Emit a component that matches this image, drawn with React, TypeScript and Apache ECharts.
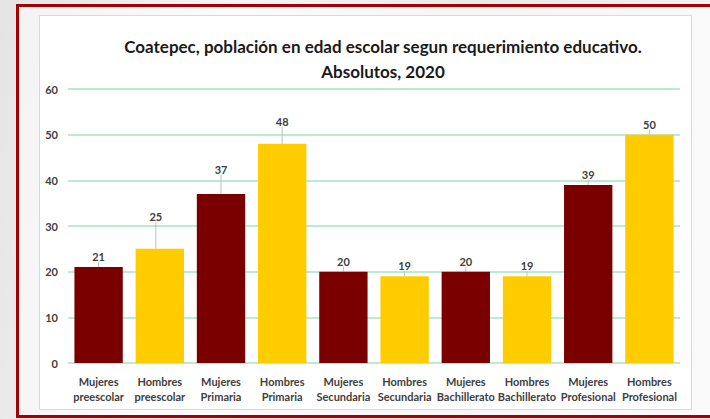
import React, { useEffect, useRef } from "react";
import * as echarts from "echarts";

const categories = [
  "Mujeres\npreescolar",
  "Hombres\npreescolar",
  "Mujeres\nPrimaria",
  "Hombres\nPrimaria",
  "Mujeres\nSecundaria",
  "Hombres\nSecundaria",
  "Mujeres\nBachillerato",
  "Hombres\nBachillerato",
  "Mujeres\nProfesional",
  "Hombres\nProfesional",
];
const values = [21, 25, 37, 48, 20, 19, 20, 19, 39, 50];
const barColors = ["#7A0000", "#FFCC00", "#7A0000", "#FFCC00", "#7A0000", "#FFCC00", "#7A0000", "#FFCC00", "#7A0000", "#FFCC00"];
const titleLines = ["Coatepec, población en edad escolar segun requerimiento educativo.", "Absolutos, 2020"];

// label vertical shifts (callouts moved above their bars)
const labelShift = [0, -22, -14, -12, 0, 0, 0, 0, 0, 0];
const labelShiftX = [0, -4, 0, 0, 0, 0, 0, 0, 0, 0];

export default function App() {
  const ref = useRef<HTMLDivElement>(null);
  useEffect(() => {
    if (!ref.current) return;
    const chart = echarts.init(ref.current, undefined, { renderer: "svg" });
    const font = "Lato, 'Open Sans', sans-serif";
    chart.setOption({
      animation: false,
      backgroundColor: "transparent",
      graphic: [
        {
          type: "rect",
          z: -10,
          shape: { x: 17.5, y: 5.5, width: 720, height: 411 },
          style: { fill: "rgba(255,255,255,0.55)", stroke: "#A50000", lineWidth: 3 },
        },
        {
          type: "rect",
          z: -9,
          shape: { x: 39.5, y: 15.5, width: 652, height: 394 },
          style: { fill: "#FFFFFF", stroke: "#D9D9D9", lineWidth: 1 },
        },
      ],
      title: {
        text: titleLines.join("\n"),
        left: 378,
        top: 29,
        padding: 5,
        textAlign: "center",
        textStyle: {
          fontFamily: font,
          fontWeight: "bold",
          fontSize: 17,
          lineHeight: 25,
          color: "#1A1A1A",
        },
      },
      grid: { left: 68, right: 30, top: 89, bottom: 56, containLabel: false },
      xAxis: {
        type: "category",
        data: categories,
        axisTick: { show: false },
        axisLine: { lineStyle: { color: "#D9D9D9", width: 1 } },
        axisLabel: {
          interval: 0,
          margin: 11,
          fontFamily: font,
          fontWeight: "bold",
          fontSize: 11,
          lineHeight: 15,
          color: "#404040",
        },
      },
      yAxis: {
        type: "value",
        min: 0,
        max: 60,
        interval: 10,
        axisLine: { show: false },
        axisTick: { show: false },
        splitLine: { lineStyle: { color: "#A6E3C3", width: 1.5 } },
        axisLabel: {
          margin: 10,
          fontFamily: font,
          fontWeight: "bold",
          fontSize: 11,
          color: "#404040",
        },
      },
      series: [
        {
          type: "bar",
          data: values.map((v, i) => ({ value: v, itemStyle: { color: barColors[i] } })),
          barCategoryGap: "21%",
          label: {
            show: true,
            position: "top",
            distance: 5,
            fontFamily: font,
            fontWeight: "bold",
            fontSize: 11,
            color: "#404040",
          },
          labelLayout: (p: any) => ({ dy: labelShift[p.dataIndex], dx: labelShiftX[p.dataIndex] }),
          labelLine: { show: true, lineStyle: { color: "#BFBFBF", width: 1 } },
        },
      ],
    });
    return () => chart.dispose();
  }, []);
  return (
    <div
      style={{
        position: "fixed",
        left: 0,
        top: 0,
        width: 710,
        height: 419,
        background: "linear-gradient(100deg, #E4E4E4 0%, #F6F6F6 30%, #EAEAEA 60%, #F5F3F5 100%)",
      }}
    >
      <div ref={ref} style={{ width: 710, height: 419 }} />
    </div>
  );
}
